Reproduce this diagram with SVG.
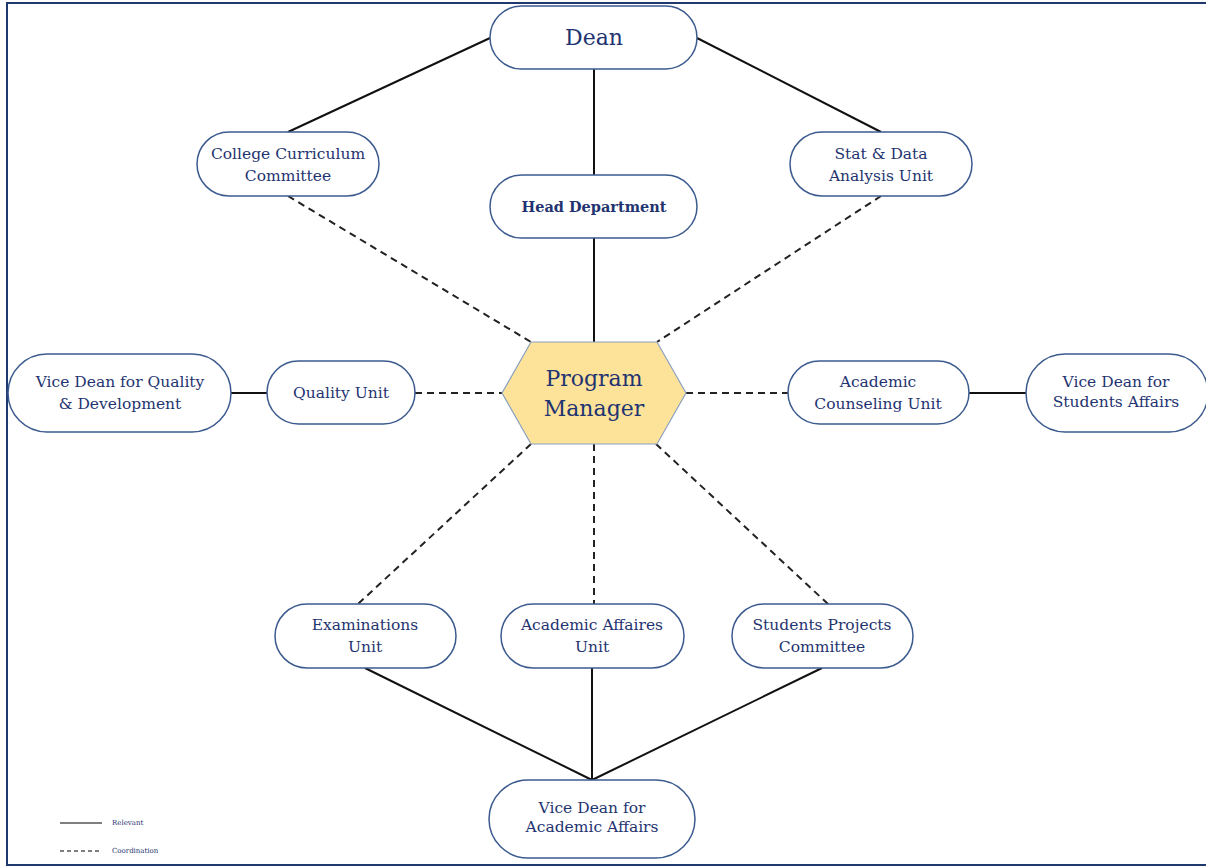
<svg xmlns="http://www.w3.org/2000/svg" width="1206" height="867" viewBox="0 0 1206 867">
<style>
.node{fill:#fff;stroke:#3b5a8e;stroke-width:1.5}
.t{font-family:"DejaVu Serif","Liberation Serif",serif;font-size:15.5px;fill:#1f3470;text-anchor:middle;dominant-baseline:central}
.solid{stroke:#111;stroke-width:2;fill:none}
.dash{stroke:#222;stroke-width:2;fill:none;stroke-dasharray:7 5}
.lg{font-family:"DejaVu Serif",serif;font-size:7px;fill:#1f3470;dominant-baseline:central}
</style>
<rect x="7" y="3" width="1210" height="862" fill="#fff" stroke="#1f3a6e" stroke-width="2"/>
<g id="connectors">
<line class="solid" x1="490" y1="38" x2="288" y2="132"/>
<line class="solid" x1="697" y1="38" x2="881" y2="132"/>
<line class="solid" x1="594" y1="69" x2="594" y2="175"/>
<line class="solid" x1="594" y1="238" x2="594" y2="342"/>
<line class="solid" x1="231" y1="393" x2="267" y2="393"/>
<line class="solid" x1="969" y1="393" x2="1026" y2="393"/>
<line class="solid" x1="365" y1="668" x2="592" y2="780"/>
<line class="solid" x1="592" y1="668" x2="592" y2="780"/>
<line class="solid" x1="822" y1="668" x2="592" y2="780"/>
<line class="dash" x1="288" y1="196" x2="531" y2="342"/>
<line class="dash" x1="881" y1="196" x2="657" y2="342"/>
<line class="dash" x1="415" y1="393" x2="502" y2="393"/>
<line class="dash" x1="686" y1="393" x2="788" y2="393"/>
<line class="dash" x1="531" y1="444" x2="358" y2="604"/>
<line class="dash" x1="594" y1="444" x2="594" y2="604"/>
<line class="dash" x1="656" y1="444" x2="828" y2="604"/>
</g>
<g id="dean"><rect class="node" x="490" y="6" width="207" height="63" rx="31.5"/><text class="t" x="594" y="37" style="font-size:22px">Dean</text></g>
<g id="college-curriculum"><rect class="node" x="197" y="132" width="182" height="64" rx="32"/><text class="t" x="288" y="154">College Curriculum</text><text class="t" x="288" y="176">Committee</text></g>
<g id="head-department"><rect class="node" x="490" y="175" width="207" height="63" rx="31.5"/><text class="t" x="594" y="206" style="font-weight:bold;font-size:14.5px">Head Department</text></g>
<g id="stat-data"><rect class="node" x="790" y="132" width="182" height="64" rx="32"/><text class="t" x="881" y="154">Stat &amp; Data</text><text class="t" x="881" y="176">Analysis Unit</text></g>
<g id="vd-quality"><rect class="node" x="8" y="354" width="223" height="78" rx="39"/><text class="t" x="120" y="382">Vice Dean for Quality</text><text class="t" x="120" y="404">&amp; Development</text></g>
<g id="quality-unit"><rect class="node" x="267" y="361" width="148" height="63" rx="31.5"/><text class="t" x="341" y="393">Quality Unit</text></g>
<g id="program-manager"><polygon points="502,393 531,342 657,342 686,393 657,444 531,444" fill="#fde39a" stroke="#8aa0c0" stroke-width="1.2"/><text class="t" x="594" y="378" style="font-size:22px">Program</text><text class="t" x="594" y="408" style="font-size:22px">Manager</text></g>
<g id="academic-counseling"><rect class="node" x="788" y="361" width="181" height="63" rx="31.5"/><text class="t" x="878" y="382">Academic</text><text class="t" x="878" y="404">Counseling Unit</text></g>
<g id="vd-students"><rect class="node" x="1026" y="354" width="182" height="78" rx="39"/><text class="t" x="1116" y="382">Vice Dean for</text><text class="t" x="1116" y="402">Students Affairs</text></g>
<g id="examinations"><rect class="node" x="275" y="604" width="181" height="64" rx="32"/><text class="t" x="365" y="625">Examinations</text><text class="t" x="365" y="647">Unit</text></g>
<g id="academic-affaires"><rect class="node" x="501" y="604" width="183" height="64" rx="32"/><text class="t" x="592" y="625">Academic Affaires</text><text class="t" x="592" y="647">Unit</text></g>
<g id="students-projects"><rect class="node" x="732" y="604" width="181" height="64" rx="32"/><text class="t" x="822" y="625">Students Projects</text><text class="t" x="822" y="647">Committee</text></g>
<g id="vd-academic"><rect class="node" x="489" y="780" width="206" height="78" rx="39"/><text class="t" x="592" y="808">Vice Dean for</text><text class="t" x="592" y="827">Academic Affairs</text></g>
<g id="legend">
<line x1="60" y1="823" x2="102" y2="823" stroke="#555" stroke-width="1.5"/>
<text class="lg" x="112" y="823">Relevant</text>
<line x1="60" y1="851" x2="102" y2="851" stroke="#555" stroke-width="1.5" stroke-dasharray="4 3"/>
<text class="lg" x="112" y="851">Coordination</text>
</g>
</svg>
